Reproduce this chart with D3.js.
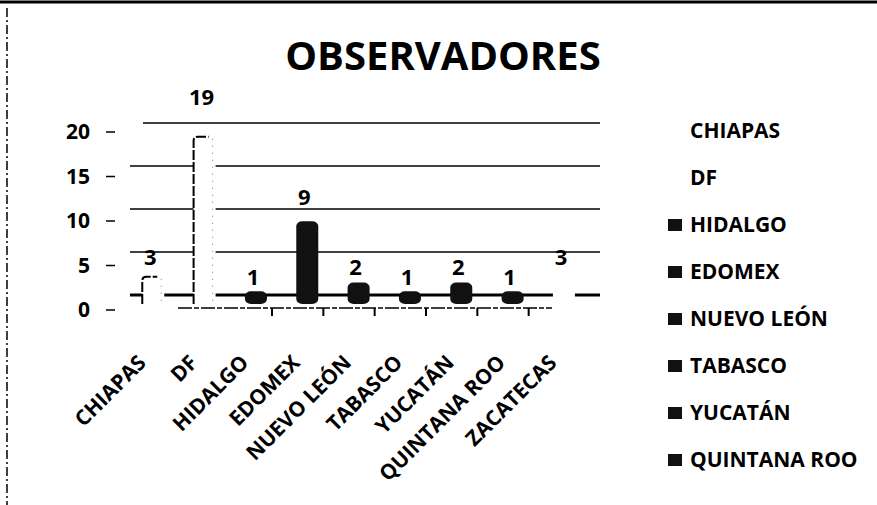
<!DOCTYPE html>
<html>
<head>
<meta charset="utf-8">
<script src="https://cdn.jsdelivr.net/npm/d3@7"></script>
<style>
  body { margin: 0; background: #fff; }
  svg text { font-family: "Open Sans", "DejaVu Sans", sans-serif; font-weight: 700; fill: #000; }
</style>
</head>
<body>
<svg id="chart" width="877" height="505"></svg>
<script>
// data
const categories = ["CHIAPAS", "DF", "HIDALGO", "EDOMEX", "NUEVO LEÓN", "TABASCO", "YUCATÁN", "QUINTANA ROO", "ZACATECAS"];
const values = [3, 19, 1, 9, 2, 1, 2, 1, 3];
const yTicks = [0, 5, 10, 15, 20];
const legendNames = categories.slice(0, 8); // last entry is cut off in the scan
const chartTitle = "OBSERVADORES";

// scan is black & white: light series came out white
const barColors = ["#ffffff", "#ffffff", "#111", "#111", "#111", "#111", "#111", "#111", "#ffffff"];
const color = d3.scaleOrdinal().domain(categories).range(barColors);

const svg = d3.select("#chart");

// frame of the scan
svg.append("line").attr("x1", 0).attr("x2", 877).attr("y1", 2).attr("y2", 2)
   .attr("stroke", "#000").attr("stroke-width", 3);
svg.append("line").attr("x1", 7).attr("x2", 7).attr("y1", 8).attr("y2", 505)
   .attr("stroke", "#000").attr("stroke-width", 1.5).attr("stroke-dasharray", "9,3,2,3");

// title
svg.append("text").attr("x", 443).attr("y", 70).attr("text-anchor", "middle")
   .style("font-size", "40px").text(chartTitle);

// 3d-ish scales: back wall, front axis, bars
var yBack = d3.scaleLinear().domain([0, 20]).range([295, 123]);
var yFront = d3.scaleLinear().domain([0, 20]).range([310, 132]);
var yBar = d3.scaleLinear().domain([0, 20]).range([303, 128]);
var yLab = d3.scaleLinear().domain([0, 20]).range([287, 87]);
var xFront = d3.scaleBand().domain(categories).range([118, 580]);
var bw = xFront.bandwidth();
function barCenter(c) { return xFront(c) + bw / 2 + 9.6; }

// gridlines on back wall
var grid = svg.append("g");
grid.selectAll("line").data(yTicks).join("line")
    .attr("x1", d => d === 20 ? 143 : 130).attr("x2", 600)
    .attr("y1", d => yBack(d)).attr("y2", d => yBack(d))
    .attr("stroke", "#000").attr("stroke-width", d => d === 0 ? 3 : 1.6);

// front floor edge + category ticks
svg.append("line").attr("x1", 178).attr("x2", 552).attr("y1", 308).attr("y2", 308)
   .attr("stroke", "#000").attr("stroke-width", 1.5).attr("stroke-dasharray", "14,2,5,2");
svg.append("g").selectAll("line").data(categories.slice(2, 8)).join("line")
   .attr("x1", d => xFront(d) + bw).attr("x2", d => xFront(d) + bw)
   .attr("y1", 308).attr("y2", 316)
   .attr("stroke", "#000").attr("stroke-width", 2);

// y axis labels and dashes
var yAxis = svg.append("g");
yAxis.selectAll("text").data(yTicks).join("text")
   .attr("x", 90).attr("y", d => yFront(d)).attr("dy", "0.35em")
   .attr("text-anchor", "end").style("font-size", "21px").text(d => d);
yAxis.selectAll("line").data(yTicks).join("line")
   .attr("x1", 106).attr("x2", 115)
   .attr("y1", d => yFront(d)).attr("y2", d => yFront(d))
   .attr("stroke", "#000").attr("stroke-width", 1.5);

// cylinders
var bars = svg.append("g");
var data = categories.map((c, i) => ({ cat: c, v: values[i] }));
bars.selectAll("rect").data(data).join("rect")
    .attr("x", d => barCenter(d.cat) - 11).attr("width", 22)
    .attr("y", d => yBar(d.v) - 3)
    .attr("height", d => yBar(0) - yBar(d.v) + 4)
    .attr("rx", 6).attr("ry", 5)
    .attr("fill", d => color(d.cat));

// the white cylinders only show their left edge in the scan
var outlined = data.slice(0, 2);
bars.selectAll("path.edge").data(outlined).join("path").attr("class", "edge")
    .attr("d", d => {
        var l = barCenter(d.cat) - 11, t = yBar(d.v);
        return "M" + l + "," + (yBar(0) + 1) + "V" + (t + 4) + "Q" + l + "," + t + " " + (l + 4) + "," + t + "H" + (l + 15);
    })
    .attr("fill", "none").attr("stroke", "#000").attr("stroke-width", 2).attr("stroke-dasharray", "10,2");
bars.selectAll("line.right").data(outlined).join("line").attr("class", "right")
    .attr("x1", d => barCenter(d.cat) + 8).attr("x2", d => barCenter(d.cat) + 8)
    .attr("y1", d => yBar(d.v) + 2).attr("y2", yBar(0))
    .attr("stroke", "#777").attr("stroke-width", 1).attr("stroke-dasharray", "1,6");

// value labels
svg.append("g").selectAll("text").data(data).join("text")
   .attr("x", d => barCenter(d.cat) - 3).attr("y", d => yLab(d.v)).attr("dy", "0.35em")
   .attr("text-anchor", "middle").style("font-size", "22px").text(d => d.v);

// rotated category labels
svg.append("g").selectAll("text").data(categories).join("text")
   .attr("transform", d => "translate(" + (barCenter(d) - 6) + ",364) rotate(-45)")
   .attr("text-anchor", "end").style("font-size", "21px").text(d => d);

// legend
var legend = svg.append("g").attr("transform", "translate(668,131)");
var rows = legend.selectAll("g").data(legendNames).join("g")
    .attr("transform", (d, i) => "translate(0," + i * 47 + ")");
rows.append("rect").attr("x", 0).attr("y", -6).attr("width", 14).attr("height", 12)
    .attr("fill", d => color(d));
rows.append("text").attr("x", 22).attr("dy", "0.35em").style("font-size", "21px").text(d => d);
</script>
</body>
</html>
